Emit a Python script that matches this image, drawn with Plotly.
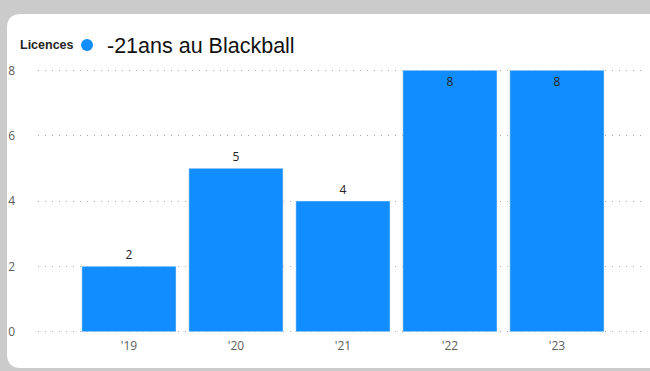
import plotly.graph_objects as go

years = ["'19", "'20", "'21", "'22", "'23"]
licences = [2, 5, 4, 8, 8]
series_name = "-21ans au Blackball"

W, H = 650, 371
L, R, T, B = 38, 5, 69, 38
pw, ph = W - L - R, H - T - B


def px_x(v):
    return (v - L) / pw


def px_y(v):
    return (H - B - v) / ph


# white rounded card on grey frame
x0, x1, y0, y1, r = 7, 664, 14, 368, 14
card = (f"M {px_x(x0 + r)},{px_y(y0)} L {px_x(x1 - r)},{px_y(y0)} "
        f"Q {px_x(x1)},{px_y(y0)} {px_x(x1)},{px_y(y0 + r)} "
        f"L {px_x(x1)},{px_y(y1 - r)} Q {px_x(x1)},{px_y(y1)} {px_x(x1 - r)},{px_y(y1)} "
        f"L {px_x(x0 + r)},{px_y(y1)} Q {px_x(x0)},{px_y(y1)} {px_x(x0)},{px_y(y1 - r)} "
        f"L {px_x(x0)},{px_y(y0 + r)} Q {px_x(x0)},{px_y(y0)} {px_x(x0 + r)},{px_y(y0)} Z")

positions = ["outside" if v < 8 else "inside" for v in licences]

fig = go.Figure()
fig.add_trace(go.Bar(
    x=years, y=licences, text=licences, textposition=positions,
    insidetextanchor="end", marker_color="#118dff", showlegend=False,
    outsidetextfont=dict(size=12, color="#252423"),
    insidetextfont=dict(size=12, color="#252423"),
    cliponaxis=False, name=series_name,
))
fig.add_trace(go.Scatter(
    x=[None], y=[None], mode="markers", name=series_name,
    marker=dict(symbol="circle", size=12, color="#118dff"),
))

fig.update_layout(
    width=W, height=H,
    margin=dict(l=L, r=R, t=T, b=B, autoexpand=False),
    paper_bgcolor="#cbcbcb",
    plot_bgcolor="rgba(0,0,0,0)",
    bargap=0.12,
    font=dict(family="Open Sans, sans-serif", color="#605e5c"),
    shapes=[dict(type="path", path=card, xref="paper", yref="paper",
                 fillcolor="white", line_width=0, layer="below")],
    annotations=[dict(text="<b>Licences</b>", x=px_x(18), y=px_y(45),
                      xref="paper", yref="paper", xanchor="left", yanchor="middle",
                      showarrow=False,
                      font=dict(size=12.5, color="#252423", family="Liberation Sans, Arial, sans-serif"))],
    legend=dict(
        orientation="h", x=px_x(67), y=px_y(45), xanchor="left", yanchor="middle",
        font=dict(size=21.5, color="#111111", family="Liberation Sans, Arial, sans-serif"),
        bgcolor="rgba(0,0,0,0)", itemsizing="constant", itemwidth=30,
    ),
)
fig.update_xaxes(
    range=[-0.85, 4.823], showgrid=False, showline=False, ticks="",
    tickfont=dict(size=12, color="#605e5c"), ticklabelstandoff=4,
)
fig.update_yaxes(
    range=[-0.04, 8.04], tickvals=[0, 2, 4, 6, 8], showgrid=True,
    gridcolor="#a8a8a8", griddash="1px,6px",
    gridwidth=1, zeroline=False, showline=False, ticks="",
    tickfont=dict(size=12, color="#605e5c"), ticklabelstandoff=22,
)

fig.write_html("out.html", config={"displayModeBar": False},
               post_script="document.body.style.margin='0';")
